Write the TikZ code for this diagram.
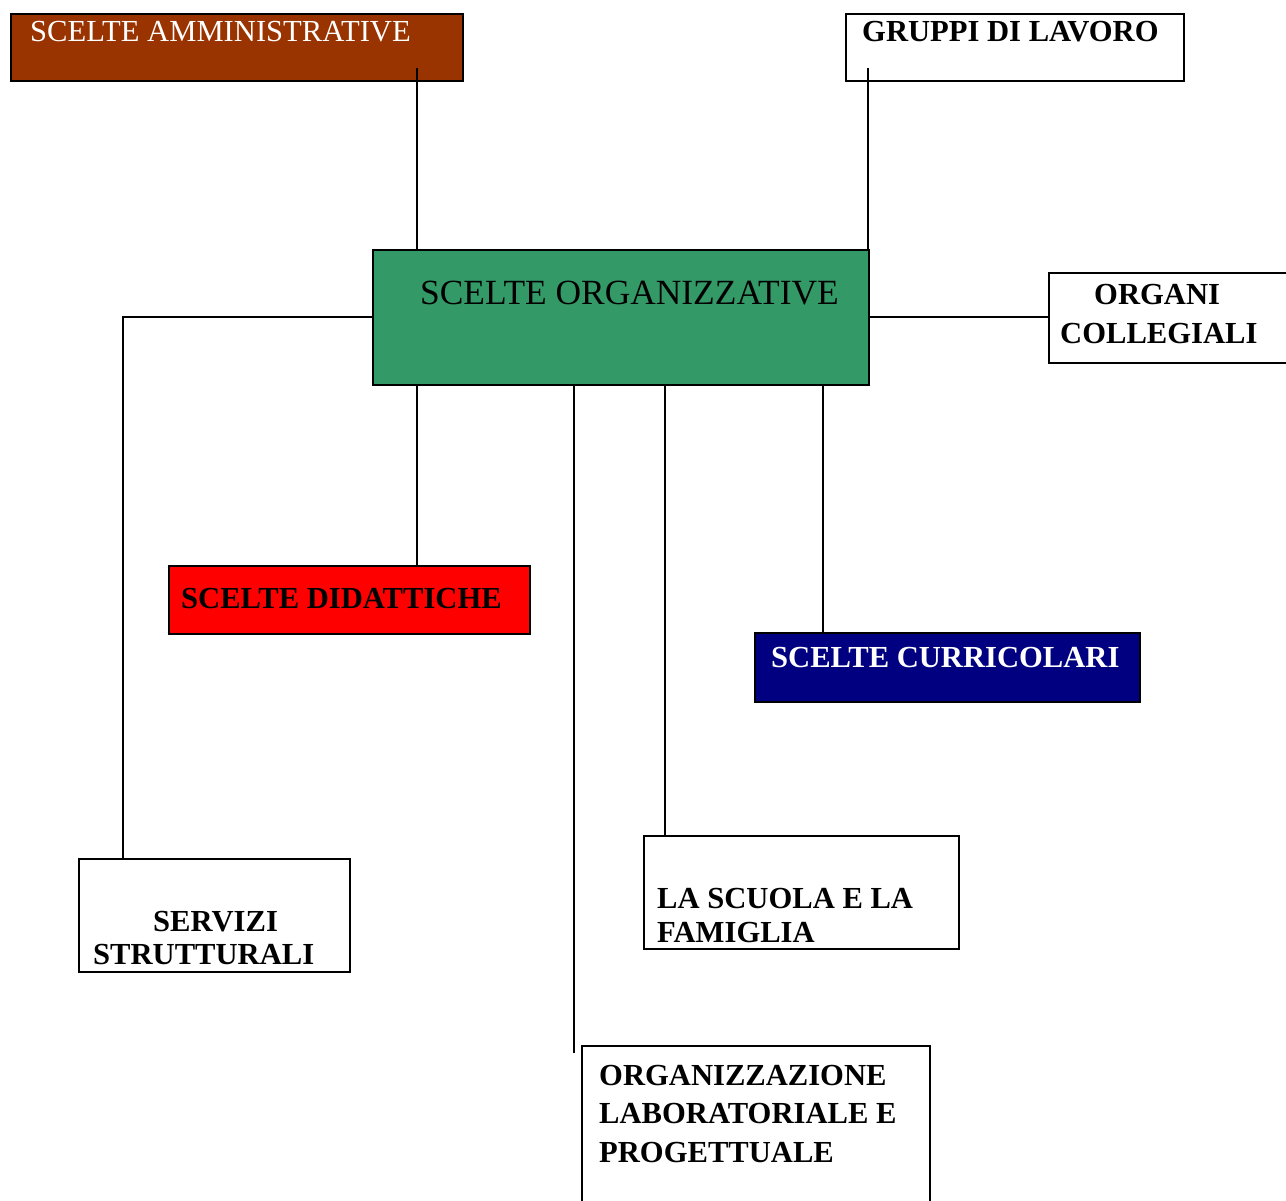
\documentclass[tikz,border=0pt]{standalone}
\usepackage{fontspec}
\setmainfont{Liberation Serif}
\definecolor{brownbox}{HTML}{993300}
\definecolor{greenbox}{HTML}{339966}
\definecolor{redbox}{HTML}{FF0000}
\definecolor{navybox}{HTML}{000080}
\tikzset{
  boxnode/.style={draw=black, line width=2pt, rectangle, inner sep=0pt, anchor=north west},
  txt/.style={anchor=base west, inner sep=0pt, font=\fontsize{30.6}{36}\selectfont\bfseries},
  txtreg/.style={anchor=base west, inner sep=0pt, font=\fontsize{30.6}{36}\selectfont},
  conn/.style={draw=black, line width=2pt}
}
\begin{document}
\begin{tikzpicture}[x=1pt, y=-1pt]
\useasboundingbox (0,0) rectangle (1286,1201);
\fill[white] (0,0) rectangle (1286,1201);

% boxes
\node[boxnode, fill=brownbox, minimum width=452pt, minimum height=67pt] (amm) at (10,13) {};
\node[boxnode, fill=white, minimum width=338pt, minimum height=67pt] (grp) at (845,13) {};
\node[boxnode, fill=greenbox, minimum width=496pt, minimum height=135pt] (cen) at (372,249) {};
\node[boxnode, fill=white, minimum width=260pt, minimum height=90pt] (org) at (1048,272) {};
\node[boxnode, fill=redbox, minimum width=361pt, minimum height=68pt] (did) at (168,565) {};
\node[boxnode, fill=navybox, minimum width=385pt, minimum height=69pt] (cur) at (754,632) {};
\node[boxnode, fill=white, minimum width=271pt, minimum height=113pt] (ser) at (78,858) {};
\node[boxnode, fill=white, minimum width=315pt, minimum height=113pt] (fam) at (643,835) {};
\node[boxnode, fill=white, minimum width=348pt, minimum height=200pt] (lab) at (581,1045) {};

% texts
\node[txtreg, text=white] (tamm) at (30,42) {SCELTE AMMINISTRATIVE};
\node[txt] (tgrp) at (862,42) {GRUPPI DI LAVORO};
\node[anchor=base west, inner sep=0pt, font=\fontsize{35.4}{42}\selectfont] (tcen) at (420,305) {SCELTE ORGANIZZATIVE};
\node[txt] (torg1) at (1094,305) {ORGANI};
\node[txt] (torg2) at (1060,343) {COLLEGIALI};
\node[txt] (tdid) at (181,608) {SCELTE DIDATTICHE};
\node[txt, text=white] (tcur) at (771,667) {SCELTE CURRICOLARI};
\node[txt] (tser1) at (153,931) {SERVIZI};
\node[txt] (tser2) at (93,964) {STRUTTURALI};
\node[txt] (tfam1) at (657,908) {LA SCUOLA E LA};
\node[txt] (tfam2) at (657,942) {FAMIGLIA};
\node[txt] (tlab1) at (599,1085) {ORGANIZZAZIONE};
\node[txt] (tlab2) at (599,1123) {LABORATORIALE E};
\node[txt] (tlab3) at (599,1162) {PROGETTUALE};

% connector anchor points
\coordinate (a1) at (417,68);
\coordinate (g1) at (868,68);
\coordinate (b1) at (417,384);
\coordinate (b2) at (574,384);
\coordinate (b3) at (665,384);
\coordinate (b4) at (823,384);
\coordinate (s1) at (123,858);
\coordinate (e2) at (574,1053);

% connectors
\draw[conn] (a1) -- (a1 |- cen.north);
\draw[conn] (g1) -- (g1 |- cen.north);
\draw[conn] (cen.east) -- (cen.east -| org.west);
\draw[conn] (cen.west) -| (s1 |- ser.north);
\draw[conn] (b1) -- (b1 |- did.north);
\draw[conn] (b2) -- (e2);
\draw[conn] (b3) -- (b3 |- fam.north);
\draw[conn] (b4) -- (b4 |- cur.north);
\end{tikzpicture}
\end{document}
